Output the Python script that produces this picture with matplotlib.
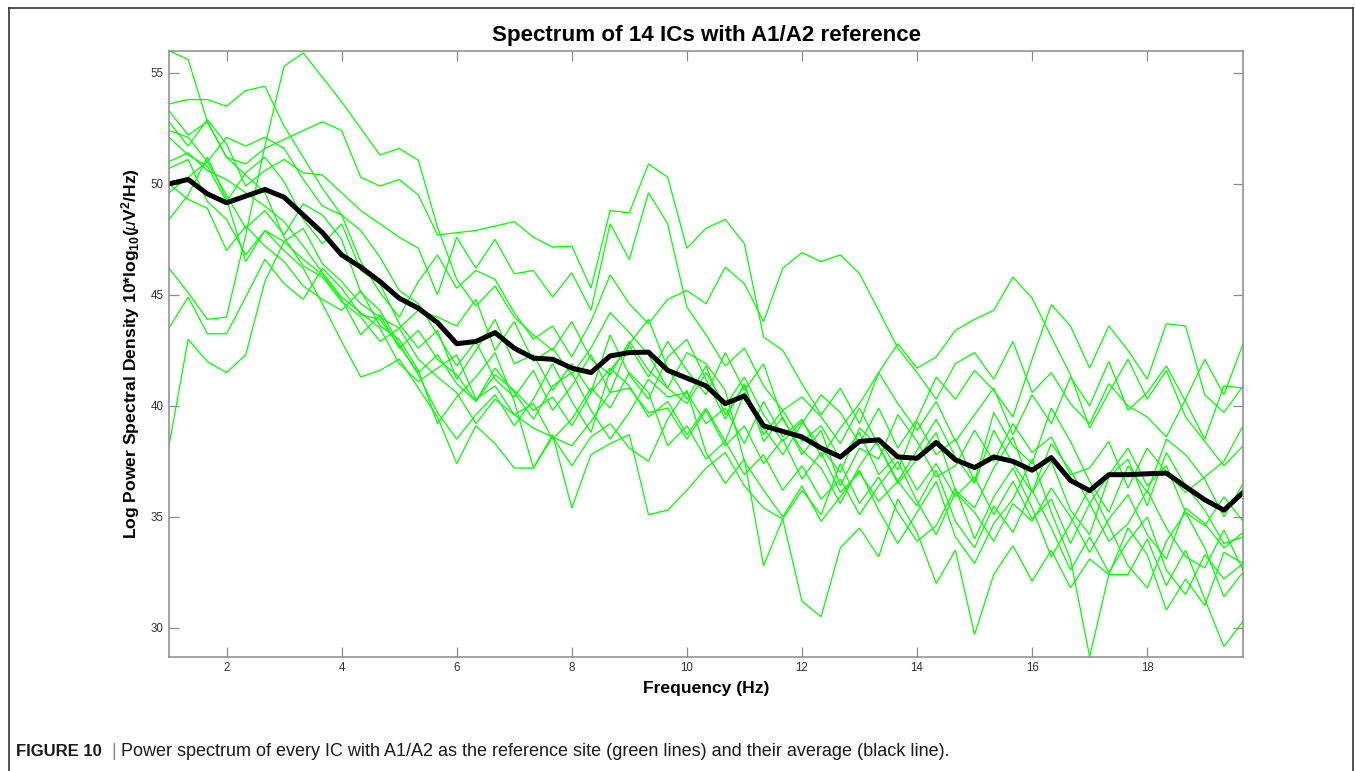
import matplotlib
matplotlib.use("Agg")
import matplotlib.pyplot as plt
import numpy as np

plt.rcParams['font.family'] = ['Liberation Sans', 'DejaVu Sans']
plt.rcParams['mathtext.fontset'] = 'custom'
plt.rcParams['mathtext.rm'] = 'Liberation Sans:bold'
plt.rcParams['mathtext.it'] = 'Liberation Sans:italic'
plt.rcParams['mathtext.bf'] = 'Liberation Sans:bold'

# Frequencies (Hz): 1 to 19.67 in 1/3-Hz steps
freqs = [1 + k / 3 for k in range(57)]

# Average spectrum (black line)
average = [50.0, 50.2, 49.55, 49.15, 49.45, 49.75, 49.4, 48.6, 47.8, 46.8,
           46.25, 45.6, 44.85, 44.4, 43.75, 42.8, 42.9, 43.3, 42.6, 42.15,
           42.1, 41.7, 41.5, 42.25, 42.4, 42.42, 41.6, 41.25, 40.9, 40.1,
           40.45, 39.1, 38.85, 38.6, 38.1, 37.7, 38.4, 38.47, 37.7, 37.64,
           38.35, 37.57, 37.22, 37.7, 37.5, 37.1, 37.67, 36.64, 36.18, 36.9,
           36.9, 36.94, 36.97, 36.36, 35.77, 35.3, 36.1]

# Individual IC spectra (green lines)
ic01 = [56.0, 55.6, 52.8, 51.2, 50.4, 49.6, 47.6, 46.3, 45.8, 44.7, 44.0, 42.9,
        43.5, 42.1, 41.3, 40.6, 39.2, 40.3, 39.6, 40.1, 38.5, 39.4, 40.8, 39.9,
        41.5, 40.6, 38.2, 39.1, 37.6, 38.4, 36.9, 37.8, 36.2, 37.3, 35.8, 36.7,
        35.1, 36.4, 37.5, 35.7, 34.2, 36.1, 35.2, 33.9, 35.6, 34.8, 36.3, 35.0,
        33.4, 34.9, 36.0, 34.2, 33.1, 35.4, 34.7, 33.6, 34.3]
ic02 = [53.6, 53.8, 53.8, 53.5, 54.2, 54.4, 52.6, 51.2, 49.8, 48.6, 47.9, 46.7,
        45.2, 44.6, 43.2, 41.8, 42.9, 41.2, 40.4, 41.6, 39.8, 40.9, 42.3, 40.6,
        42.8, 43.9, 41.7, 40.3, 41.8, 39.6, 40.9, 38.7, 39.8, 38.4, 39.1, 37.6,
        38.8, 36.9, 37.8, 36.2, 37.4, 35.9, 36.8, 35.1, 36.6, 34.9, 35.8, 33.8,
        35.6, 33.9, 34.7, 36.2, 34.5, 33.2, 32.7, 34.4, 32.6]
ic03 = [53.3, 52.2, 52.8, 51.2, 50.9, 51.6, 52.0, 52.4, 52.8, 52.4, 50.3, 49.9,
        50.2, 49.5, 47.7, 47.8, 47.9, 48.1, 48.3, 47.6, 47.15, 47.2, 45.3, 48.8,
        48.7, 50.9, 50.3, 47.1, 48.0, 48.4, 47.3, 43.1, 42.5, 41.0, 39.6, 40.8,
        39.2, 41.5, 40.1, 38.9, 40.2, 38.4, 39.6, 40.8, 38.7, 40.5, 39.2, 41.3,
        40.0, 42.0, 39.8, 40.6, 41.8, 40.2, 38.5, 40.9, 40.8]
ic04 = [52.8, 51.7, 52.9, 51.8, 49.9, 50.6, 51.1, 50.5, 50.4, 49.6, 48.8, 48.2,
        47.6, 47.1, 45.0, 47.6, 46.2, 47.5, 45.95, 46.1, 44.9, 46.0, 44.3, 48.2,
        46.6, 49.6, 48.2, 44.45, 43.2, 41.8, 42.6, 40.9, 39.8, 40.4, 39.5, 38.3,
        39.9, 38.2, 36.5, 37.6, 38.8, 36.2, 35.4, 37.2, 38.6, 36.1, 37.5, 35.3,
        34.2, 36.8, 37.6, 35.5, 37.9, 36.4, 35.3, 33.8, 34.1]
ic05 = [52.4, 52.1, 51.0, 52.1, 51.7, 52.1, 51.6, 50.2, 49.0, 48.6, 46.5, 45.1,
        44.0, 45.6, 46.8, 45.3, 46.1, 45.7, 44.2, 43.0, 43.6, 42.2, 43.8, 45.9,
        44.6, 43.7, 44.8, 45.2, 44.6, 46.25, 45.5, 43.8, 46.2, 46.9, 46.5, 46.8,
        45.96, 44.3, 42.6, 41.5, 40.3, 41.9, 42.4, 41.2, 42.9, 40.6, 41.5, 40.1,
        39.2, 41.0, 40.0, 39.5, 38.6, 40.3, 42.1, 40.5, 42.8]
ic06 = [52.1, 51.3, 50.8, 49.2, 50.5, 51.2, 50.1, 48.4, 47.3, 48.2, 46.1, 45.5,
        43.7, 42.6, 43.4, 41.2, 42.5, 43.9, 41.9, 42.3, 40.7, 41.9, 40.6, 43.2,
        41.4, 40.3, 42.2, 43.0, 41.2, 39.4, 41.0, 38.4, 39.5, 37.8, 38.9, 36.4,
        38.1, 37.6, 39.6, 38.4, 36.8, 37.3, 38.9, 37.5, 39.2, 37.9, 38.6, 36.9,
        37.2, 38.4, 36.3, 38.1, 37.0, 36.1, 36.8, 37.5, 39.1]
ic07 = [51.0, 51.4, 50.6, 50.2, 49.6, 49.0, 48.3, 47.2, 46.0, 44.9, 44.2, 43.5,
        41.9, 41.1, 41.7, 42.3, 40.3, 40.9, 39.6, 39.0, 38.6, 38.2, 39.3, 40.6,
        40.8, 39.7, 39.9, 38.5, 39.8, 38.2, 39.1, 37.4, 38.5, 36.7, 37.9, 36.1,
        37.0, 35.7, 36.6, 35.5, 37.1, 34.8, 33.6, 35.5, 34.3, 36.2, 34.5, 32.6,
        34.1, 32.5, 33.9, 35.0, 32.6, 31.5, 33.3, 32.2, 32.9]
ic08 = [50.7, 51.1, 49.2, 48.4, 46.8, 47.9, 47.4, 46.6, 45.9, 44.8, 43.2, 44.1,
        42.6, 43.4, 42.1, 41.4, 40.2, 41.7, 40.6, 39.4, 40.9, 41.5, 39.8, 38.5,
        39.7, 41.2, 40.4, 40.6, 39.2, 39.9, 38.3, 40.2, 38.6, 39.4, 37.7, 39.0,
        40.1, 41.5, 42.8, 41.7, 42.2, 43.4, 43.9, 44.3, 45.8, 44.86, 43.1, 41.4,
        39.0, 40.6, 42.1, 40.3, 41.6, 39.5, 38.4, 37.3, 38.2]
ic09 = [50.0, 49.3, 48.9, 47.0, 48.1, 47.2, 46.5, 45.4, 44.8, 44.3, 45.2, 43.6,
        43.0, 41.6, 39.2, 40.4, 41.3, 42.4, 40.2, 37.2, 38.6, 37.3, 38.6, 39.2,
        38.1, 37.5, 39.4, 40.7, 37.9, 36.5, 37.6, 32.8, 34.9, 36.2, 35.1, 37.4,
        35.6, 36.8, 35.2, 33.9, 34.6, 36.3, 34.0, 35.9, 37.2, 35.4, 33.2, 34.7,
        36.3, 34.6, 32.8, 31.8, 33.9, 35.2, 33.6, 31.4, 32.5]
ic10 = [49.6, 50.3, 51.0, 49.5, 48.0, 48.8, 47.7, 49.1, 48.6, 47.5, 45.1, 44.3,
        42.8, 41.4, 39.7, 38.5, 39.6, 40.5, 39.1, 40.3, 41.9, 40.2, 38.8, 41.6,
        42.7, 41.3, 42.9, 41.6, 40.5, 42.4, 40.7, 41.9, 39.4, 38.0, 37.2, 35.6,
        37.3, 38.5, 37.1, 39.3, 37.8, 38.5, 36.6, 39.7, 38.2, 37.4, 39.9, 38.4,
        36.6, 35.2, 37.3, 36.1, 38.5, 37.8, 36.7, 35.0, 36.5]
ic11 = [48.4, 49.5, 51.2, 49.3, 46.5, 47.9, 47.0, 46.2, 44.6, 42.9, 41.3, 41.6,
        42.1, 40.8, 39.5, 37.4, 39.1, 38.3, 37.2, 37.2, 38.7, 35.4, 37.8, 38.3,
        38.7, 35.1, 35.3, 36.2, 37.2, 37.9, 36.4, 35.4, 34.9, 31.2, 30.5, 33.6,
        34.5, 33.2, 35.8, 34.3, 32.0, 33.5, 29.7, 32.4, 33.7, 32.1, 33.5, 31.8,
        33.1, 32.4, 34.5, 33.3, 30.8, 32.2, 31.0, 33.4, 32.9]
ic12 = [46.2, 45.1, 43.9, 44.0, 47.7, 51.7, 55.3, 55.9, 54.8, 53.7, 52.5, 51.3,
        51.6, 51.06, 48.05, 45.7, 44.5, 45.4, 44.0, 43.2, 42.5, 43.8, 42.1, 41.4,
        42.9, 41.6, 40.8, 40.1, 41.5, 40.0, 41.3, 39.6, 38.4, 39.3, 38.1, 37.0,
        39.0, 38.2, 36.6, 38.0, 39.4, 37.7, 36.5, 38.9, 37.4, 36.1, 38.3, 37.1,
        35.6, 36.9, 38.1, 36.4, 37.3, 35.2, 34.6, 35.9, 34.8]
ic13 = [43.5, 44.9, 43.25, 43.25, 44.9, 46.6, 45.5, 44.8, 46.2, 45.3, 44.1, 43.9,
        42.7, 41.5, 42.3, 41.0, 40.2, 41.4, 40.7, 39.8, 40.4, 39.1, 40.6, 41.7,
        40.9, 39.5, 40.2, 38.7, 39.9, 38.4, 40.6, 39.0, 37.8, 39.2, 40.5, 39.7,
        38.3, 39.9, 38.1, 39.4, 41.3, 40.3, 41.6, 40.7, 39.5, 42.1, 44.56, 43.6,
        41.7, 43.6, 42.5, 41.2, 43.7, 43.6, 40.5, 39.7, 40.9]
ic14 = [38.2, 43.0, 42.0, 41.5, 42.3, 45.6, 47.4, 48.0, 46.4, 45.6, 44.6, 44.0,
        43.5, 44.3, 44.0, 43.6, 44.8, 42.5, 43.8, 42.0, 42.6, 41.4, 42.6, 44.2,
        43.3, 42.3, 40.8, 42.4, 41.9, 40.7, 37.5, 36.2, 35.0, 36.4, 34.8, 35.9,
        37.1, 35.3, 33.8, 35.2, 36.6, 34.1, 32.9, 34.7, 35.8, 37.6, 35.2, 33.1,
        28.7, 32.4, 32.4, 34.0, 31.9, 33.5, 31.3, 29.15, 30.3]

ics = [ic01, ic02, ic03, ic04, ic05, ic06, ic07, ic08, ic09, ic10, ic11, ic12, ic13, ic14]

x_ticks = [2, 4, 6, 8, 10, 12, 14, 16, 18]
y_ticks = [30, 35, 40, 45, 50, 55]

W, H = 1355, 771
fig = plt.figure(figsize=(W / 100, H / 100), dpi=100)
fig.patch.set_facecolor('white')

ax = fig.add_axes([169 / W, 1 - 656.7 / H, (1243.3 - 169) / W, (656.7 - 50.7) / H])
for ic in ics:
    ax.plot(freqs, ic, color='#00ff00', lw=0.9, solid_joinstyle='miter')
ax.plot(freqs, average, color='black', lw=3.6, solid_joinstyle='round')

ax.set_xlim(1, 19.67)
ax.set_ylim(28.7, 56.0)
ax.set_xticks(x_ticks)
ax.set_yticks(y_ticks)
axis_gray = '#8a8a8a'
for s in ax.spines.values():
    s.set_color(axis_gray)
    s.set_linewidth(1.1)
ax.tick_params(direction='in', length=7.5, width=0.9, color=axis_gray,
               labelsize=8.3, labelcolor='#333333', top=True, right=True, pad=4)

fig.text(706 / W, 1 - 36 / H, 'Spectrum of 14 ICs with A1/A2 reference',
         ha='center', va='center', fontsize=16.1, fontweight='bold', color='black')
fig.text(706 / W, 1 - 689 / H, 'Frequency (Hz)', ha='center', va='center',
         fontsize=12.6, fontweight='bold')
fig.text(131 / W, 1 - 353.7 / H,
         r'Log Power Spectral Density 10*log$_{10}$($\mu$V$^2$/Hz)',
         ha='center', va='center', rotation=90, fontsize=12.6, fontweight='bold')

# caption
fig.text(16 / W, 1 - 752 / H, 'FIGURE 10', ha='left', va='center',
         fontsize=12, fontweight='bold', color='#1a1a1a')
fig.text(111 / W, 1 - 751 / H, '|', ha='left', va='center', fontsize=13,
         color='#888888')
fig.text(121 / W, 1 - 752 / H,
         'Power spectrum of every IC with A1/A2 as the reference site (green lines) and their average (black line).',
         ha='left', va='center', fontsize=13, color='#1a1a1a')

# outer frame
frame_color = '#333333'
fig.add_artist(plt.Line2D([9 / W, 9 / W], [0, 1 - 8 / H], transform=fig.transFigure,
                          color=frame_color, lw=1.2))
fig.add_artist(plt.Line2D([9 / W, 1353 / W], [1 - 8 / H, 1 - 8 / H],
                          transform=fig.transFigure, color=frame_color, lw=1.2))
fig.add_artist(plt.Line2D([1353 / W, 1353 / W], [0, 1 - 8 / H],
                          transform=fig.transFigure, color=frame_color, lw=1.2))

fig.savefig('out.png', dpi=100)
